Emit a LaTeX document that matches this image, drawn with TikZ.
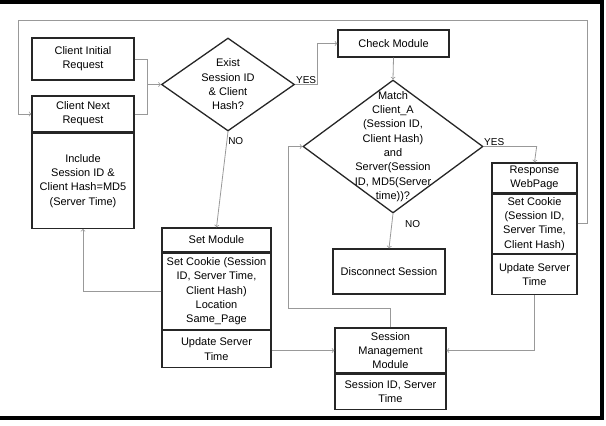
\documentclass[tikz,border=0pt]{standalone}
\usepackage{fontspec}
\setmainfont{Liberation Sans}
\usetikzlibrary{positioning, shapes.geometric}

\begin{document}
\begin{tikzpicture}
    [
        x=1pt, y=-1pt, node distance=0pt,
        box_node/.style={rectangle, draw=black!85, line width=1.3pt, align=center, inner xsep=1pt, inner ysep=1pt, text=black, font=\fontsize{11}{14.3}\selectfont},
        diamond_node/.style={diamond, draw=black!85, line width=1.3pt, inner sep=0pt},
        diamond_text/.style={align=center, text=black, font=\fontsize{11}{14.3}\selectfont},
        link/.style={->, line width=0.8pt, color=black!40},
        edge_label/.style={text=black, font=\fontsize{10}{12}\selectfont, inner sep=1pt},
    ]
        \useasboundingbox (0,0) rectangle (606,426);
        % left column
        \node[box_node, minimum width=102pt, minimum height=42pt] (init_req) at (83,59) {Client Initial\\Request} ;
        \node[box_node, minimum width=102pt, minimum height=36pt] (next_req) at (83,114) {Client Next\\Request} ;
        \node[box_node, minimum width=102pt, minimum height=95pt] (include) [below = of next_req] {Include\\Session ID \&\\Client Hash=MD5\\(Server Time)} ;
        % decisions
        \node[diamond_node, minimum width=133pt, minimum height=93pt, label={[diamond_text]center:{Exist\\Session ID\\\& Client\\Hash?}}] (exist) at (228,84.5) {} ;
        \node[box_node, minimum width=111pt, minimum height=27pt] (check) at (393.5,43.5) {Check Module} ;
        \node[diamond_node, minimum width=180pt, minimum height=133pt, label={[diamond_text]center:{Match\\Client\_A\\(Session ID,\\Client Hash)\\and\\Server(Session\\ID, MD5(Server\\time))?}}] (match) at (393,146.5) {} ;
        % right column
        \node[box_node, minimum width=85pt, minimum height=30pt] (resp) at (534.5,178) {Response\\WebPage} ;
        \node[box_node, minimum width=85pt, minimum height=59pt] (resp_cookie) [below = of resp] {Set Cookie\\(Session ID,\\Server Time,\\Client Hash)} ;
        \node[box_node, minimum width=85pt, minimum height=40pt] (resp_update) [below = of resp_cookie] {Update Server\\Time} ;
        \node[box_node, minimum width=112pt, minimum height=45pt] (disc) at (389,271.5) {Disconnect Session} ;
        % set module
        \node[box_node, minimum width=109pt, minimum height=24pt] (set_mod) at (216.5,240) {Set Module} ;
        \node[box_node, minimum width=109pt, minimum height=76pt] (set_cookie) [below = of set_mod] {Set Cookie (Session\\ID, Server Time,\\Client Hash)\\Location\\Same\_Page} ;
        \node[box_node, minimum width=109pt, minimum height=37pt] (set_update) [below = of set_cookie] {Update Server\\Time} ;
        % session management
        \node[box_node, minimum width=111pt, minimum height=45pt] (sess_mgmt) at (390.5,350.5) {Session\\Management\\Module} ;
        \node[box_node, minimum width=111pt, minimum height=35pt] (sess_id) [below = of sess_mgmt] {Session ID, Server\\Time} ;
        % bends
        \coordinate (merge) at (147,84.5) ;
        \coordinate (r_top) at (587,20) ;
        \coordinate (l_top) at (18,20) ;
        \coordinate (back) at (288,308) ;
        % connectors
        \draw[link, -] (init_req.east) -| (merge) ;
        \draw[link, -] (next_req.east) -| (merge) ;
        \draw[link] (merge) -- (exist.west) ;
        \draw[link] (exist.east) -- node[edge_label, above] {YES} ++(22,0) |- (check.west) ;
        \draw[link] (exist.south) -- node[edge_label, right, pos=0.1] {NO} (set_mod.north) ;
        \draw[link] (check.south) -- (match.north) ;
        \draw[link] (match.east) -- node[edge_label, above, pos=0.2] {YES} ++(53,0) -- (resp.north) ;
        \draw[link] (match.south) -- node[edge_label, right=12pt, pos=0.3] {NO} (disc.north) ;
        \draw[link] (resp_cookie.east) -| (r_top) -- (l_top) |- (next_req.west) ;
        \draw[link] (resp_update.south) |- (sess_mgmt.east) ;
        \draw[link] (sess_mgmt.north) |- (back) |- (match.west) ;
        \draw[link] (set_cookie.west) -| (include.south) ;
        \draw[link] (set_update.east |- sess_mgmt.west) -- (sess_mgmt.west) ;
        % frame
        \draw[line width=4pt, black] (0,1.5) -- (601.5,1.5) -- (601.5,418) -- (0,418) ;
\end{tikzpicture}
\end{document}
